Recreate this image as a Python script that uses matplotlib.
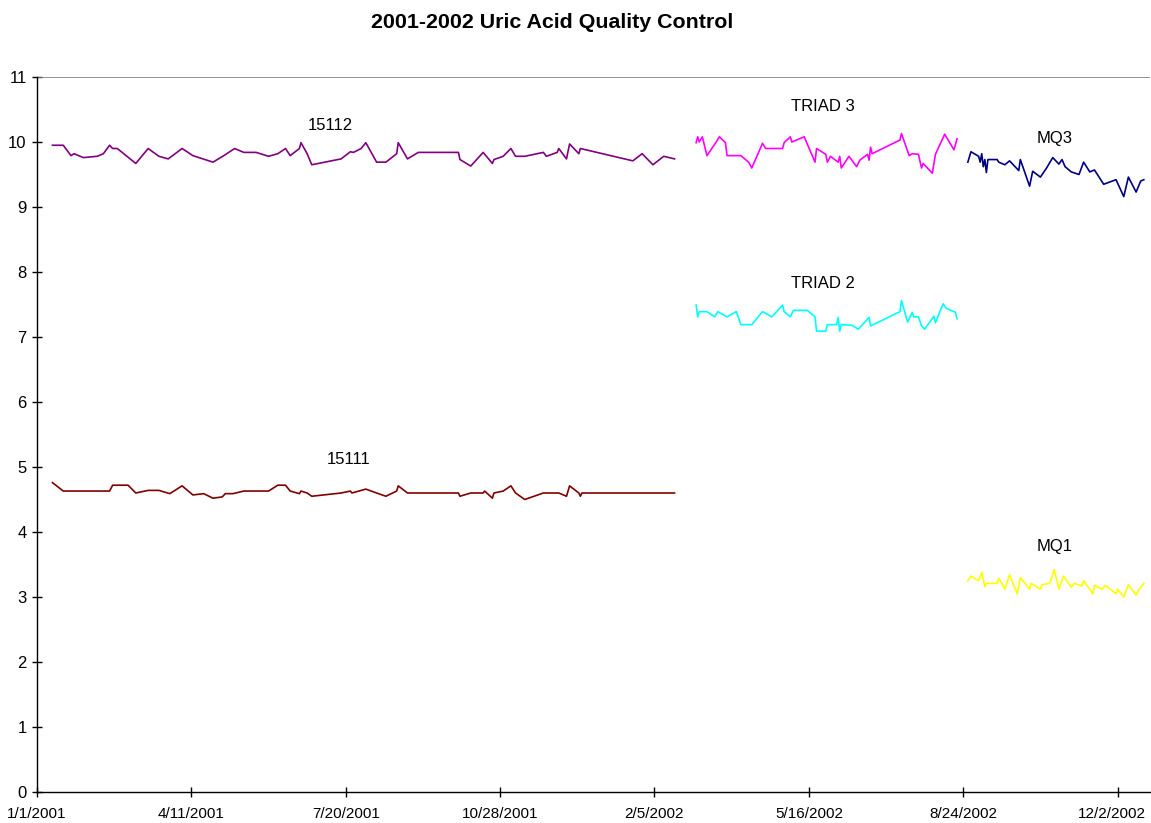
import matplotlib
matplotlib.use("Agg")
import matplotlib.pyplot as plt
import matplotlib.transforms as mtransforms
import pandas as pd

plt.rcParams['font.family'] = ['Liberation Sans', 'DejaVu Sans']

START = pd.Timestamp('2001-01-01')

# days since 1/1/2001 and values
days_15112 = [10, 17, 22, 24, 30, 39, 43, 47, 49, 52, 64, 72, 79, 85, 94, 101, 114, 121, 128, 134,
              142, 150, 156, 161, 164, 170, 171, 175, 178, 197, 203, 205, 210, 213, 220, 226, 233, 234,
              240, 247, 273, 274, 281, 289, 295, 296, 302, 307, 310, 316, 328, 330, 337, 338, 343, 345,
              351, 352, 386, 392, 399, 406, 413]
vals_15112 = [9.95, 9.95, 9.79, 9.82, 9.76, 9.78, 9.82, 9.95, 9.90, 9.90, 9.67, 9.90, 9.78, 9.74, 9.90,
              9.79, 9.69, 9.79, 9.90, 9.84, 9.84, 9.78, 9.82, 9.90, 9.79, 9.90, 9.99, 9.82, 9.65, 9.74,
              9.85, 9.84, 9.90, 9.99, 9.69, 9.69, 9.82, 9.99, 9.74, 9.84, 9.84, 9.73, 9.63, 9.84, 9.67,
              9.73, 9.78, 9.90, 9.78, 9.78, 9.84, 9.78, 9.84, 9.90, 9.74, 9.97, 9.82, 9.90, 9.71, 9.82,
              9.65, 9.78, 9.74]

days_15111 = [10, 17, 47, 49, 59, 64, 72, 79, 86, 94, 101, 108, 114, 120, 122, 127, 134, 150, 156, 161,
              164, 170, 171, 175, 178, 197, 203, 204, 213, 220, 226, 233, 234, 240, 273, 274, 281, 289,
              290, 295, 296, 302, 307, 310, 316, 328, 338, 343, 345, 351, 352, 353, 413]
vals_15111 = [4.76, 4.63, 4.63, 4.72, 4.72, 4.60, 4.64, 4.64, 4.59, 4.71, 4.57, 4.59, 4.52, 4.54, 4.59,
              4.59, 4.63, 4.63, 4.72, 4.72, 4.63, 4.59, 4.63, 4.60, 4.55, 4.60, 4.63, 4.60, 4.66, 4.60,
              4.55, 4.63, 4.71, 4.60, 4.60, 4.55, 4.60, 4.60, 4.63, 4.52, 4.60, 4.63, 4.71, 4.60, 4.50,
              4.60, 4.60, 4.55, 4.71, 4.60, 4.55, 4.60, 4.60]

days_triad3 = [427, 428, 429, 431, 434, 440, 442, 446, 447, 456, 461, 463, 470, 472, 483, 484, 488, 489,
               497, 504, 505, 511, 512, 514, 519, 520, 521, 526, 531, 533, 538, 539, 540, 541, 559, 560,
               565, 567, 571, 573, 574, 580, 582, 588, 594, 596]
vals_triad3 = [9.99, 10.08, 10.00, 10.08, 9.79, 10.00, 10.08, 9.99, 9.79, 9.79, 9.69, 9.60, 9.98, 9.90,
               9.90, 9.99, 10.08, 10.00, 10.08, 9.69, 9.90, 9.81, 9.69, 9.78, 9.69, 9.78, 9.60, 9.78,
               9.62, 9.72, 9.81, 9.72, 9.92, 9.82, 10.03, 10.13, 9.79, 9.82, 9.81, 9.60, 9.67, 9.52,
               9.81, 10.12, 9.88, 10.05]

days_triad2 = [427, 428, 429, 434, 439, 441, 447, 453, 456, 463, 470, 476, 483, 484, 488, 490, 499, 504,
               505, 511, 512, 518, 519, 520, 521, 528, 532, 539, 540, 559, 560, 564, 567, 568, 571, 573,
               575, 581, 582, 587, 589, 595, 596]
vals_triad2 = [7.49, 7.31, 7.39, 7.39, 7.31, 7.39, 7.31, 7.39, 7.19, 7.19, 7.39, 7.31, 7.49, 7.39, 7.31,
               7.41, 7.41, 7.31, 7.09, 7.09, 7.19, 7.19, 7.30, 7.09, 7.19, 7.18, 7.12, 7.30, 7.17, 7.39,
               7.56, 7.23, 7.38, 7.31, 7.31, 7.17, 7.12, 7.32, 7.22, 7.51, 7.44, 7.38, 7.28]

days_mq3 = [603, 605, 610, 611, 612, 613, 614, 615, 616, 622, 623, 627, 630, 636, 637, 643, 645, 650,
            654, 658, 660, 662, 664, 666, 670, 675, 678, 682, 685, 691, 699, 704, 707, 712, 715, 717]
vals_mq3 = [9.69, 9.85, 9.78, 9.69, 9.82, 9.62, 9.73, 9.53, 9.73, 9.73, 9.69, 9.65, 9.71, 9.56, 9.73,
            9.32, 9.55, 9.46, 9.60, 9.76, 9.71, 9.66, 9.73, 9.62, 9.54, 9.50, 9.69, 9.54, 9.57, 9.35,
            9.42, 9.16, 9.46, 9.23, 9.40, 9.42]

days_mq1 = [603, 605, 610, 612, 614, 615, 622, 623, 627, 630, 635, 637, 643, 644, 650, 651, 656, 659,
            662, 665, 670, 672, 677, 678, 684, 685, 690, 692, 699, 700, 704, 707, 712, 714, 717]
vals_mq1 = [3.25, 3.32, 3.25, 3.38, 3.16, 3.21, 3.21, 3.29, 3.12, 3.34, 3.05, 3.30, 3.12, 3.21, 3.12,
            3.19, 3.21, 3.42, 3.12, 3.32, 3.15, 3.21, 3.17, 3.25, 3.05, 3.18, 3.12, 3.18, 3.05, 3.12,
            3.00, 3.19, 3.03, 3.12, 3.21]

series = [
    ("15112", days_15112, vals_15112, "#800080", 190, 10.26),
    ("15111", days_15111, vals_15111, "#800000", 202, 5.11),
    ("TRIAD 3", days_triad3, vals_triad3, "#FF00FF", 509, 10.54),
    ("TRIAD 2", days_triad2, vals_triad2, "#00FFFF", 509, 7.82),
    ("MQ3", days_mq3, vals_mq3, "#000080", 659, 10.05),
    ("MQ1", days_mq1, vals_mq1, "#FFFF00", 659, 3.77),
]

tick_days = [0, 100, 200, 300, 400, 500, 600, 700]

def to_dates(days):
    return START + pd.to_timedelta(days, unit='D')

fig = plt.figure(figsize=(11.51, 8.23), dpi=100)
ax = fig.add_axes([37 / 1151, 31 / 823, 1113 / 1151, 715 / 823])

for name, d, v, color, lx, ly in series:
    ax.plot(to_dates(d), v, color=color, lw=1.2)
    ax.text(to_dates([lx])[0], ly, name, ha='center', va='center', fontsize=12, color='black')

ax.set_ylim(0, 11)
ax.set_yticks(range(0, 12))
ax.set_xlim(to_dates([0])[0], to_dates([721])[0])
tick_dates = to_dates(tick_days)
ax.set_xticks(tick_dates)
ax.set_xticklabels([f"{t.month}/{t.day}/{t.year}" for t in tick_dates])

ax.axhline(11, color='#808080', lw=1.2)
for s in ['top', 'right']:
    ax.spines[s].set_visible(False)
for s in ['left', 'bottom']:
    ax.spines[s].set_color('black')
    ax.spines[s].set_linewidth(1.0)

ax.tick_params(axis='both', direction='inout', length=7, width=1)
ax.tick_params(axis='x', pad=7.5, labelsize=11)
ax.tick_params(axis='y', pad=4, labelsize=12)

last = ax.get_xticklabels()[-1]
last.set_transform(last.get_transform() + mtransforms.ScaledTranslation(-6 / 100, 0, fig.dpi_scale_trans))

fig.text(552 / 1151, 1 - 22 / 823, "2001-2002 Uric Acid Quality Control", ha='center', va='center',
         fontsize=15.4, fontweight='bold')

fig.savefig("out.png", dpi=100)
